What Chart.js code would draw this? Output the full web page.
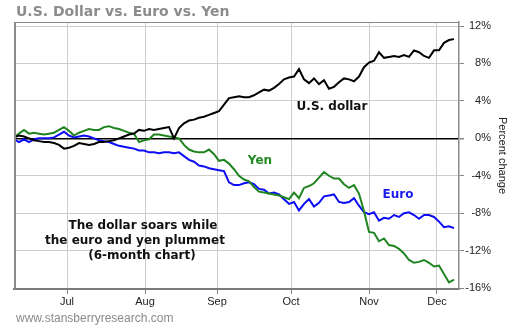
<!DOCTYPE html>
<html><head><meta charset="utf-8">
<script src="https://cdn.jsdelivr.net/npm/chart.js@4.4.1/dist/chart.umd.min.js"></script>
<style>html,body{margin:0;padding:0;background:#fff;overflow:hidden}#wrap{width:510px;height:325px;position:relative}</style>
</head><body><div id="wrap"><canvas id="c" width="510" height="325"></canvas></div>
<script>
// x values are trading-day indices; month tick labels placed at their index
const monthLabels = ['Jul','Aug','Sep','Oct','Nov','Dec'];
const monthTickIndex = [10.6, 26.2, 40.6, 55.4, 71.0, 84.6];
const yTickValues = [12, 8, 4, 0, -4, -8, -12, -16];

const usDollar = [0.1,0.3,0.2,0.0,-0.2,-0.3,-0.4,-0.4,-0.5,-0.7,
 -1.1,-1.0,-0.8,-0.5,-0.6,-0.7,-0.6,-0.4,-0.4,-0.3,
 -0.2,0.0,0.2,0.4,0.5,0.9,0.8,1.0,0.9,1.0,
 1.1,1.2,0.0,1.1,1.6,1.9,2.0,2.2,2.3,2.5,
 2.7,2.9,3.6,4.3,4.4,4.5,4.4,4.4,4.6,4.9,
 5.2,5.1,5.4,5.8,6.3,6.5,6.6,7.4,6.3,5.9,
 6.4,5.8,6.2,5.3,5.5,6.0,6.4,6.3,6.1,6.6,
 7.6,8.1,8.3,9.2,8.6,8.7,8.8,8.7,8.9,8.7,
 9.4,9.2,8.8,8.6,9.4,9.4,10.2,10.5,10.6];

const euro = [-0.1,-0.4,-0.1,-0.4,-0.1,0.0,0.0,0.0,0.1,0.4,
 0.7,0.3,0.1,0.2,0.3,0.2,0.0,-0.2,-0.3,-0.4,
 -0.6,-0.8,-0.9,-1.0,-1.1,-1.3,-1.3,-1.5,-1.5,-1.6,
 -1.5,-1.5,-1.6,-1.5,-1.9,-2.3,-2.5,-2.9,-3.0,-3.2,
 -3.3,-3.4,-3.5,-4.7,-5.0,-5.0,-4.8,-4.7,-4.9,-5.4,
 -5.5,-5.9,-5.8,-6.0,-6.5,-7.0,-6.8,-7.7,-7.0,-6.5,
 -7.3,-6.9,-6.2,-6.1,-6.0,-6.8,-6.9,-6.8,-6.4,-7.2,
 -7.9,-8.1,-7.9,-8.8,-8.5,-8.6,-8.2,-8.4,-8.0,-7.9,
 -8.2,-8.6,-8.2,-8.2,-8.4,-8.9,-9.5,-9.4,-9.6];

const yen = [0.1,0.5,0.9,0.5,0.6,0.5,0.4,0.5,0.6,0.9,
 1.2,0.8,0.3,0.6,0.8,1.0,0.9,0.9,1.2,1.3,
 1.1,1.0,0.8,0.6,0.5,-0.4,-0.2,-0.1,0.4,0.4,
 0.3,0.2,0.1,0.0,-0.7,-1.2,-1.4,-1.5,-1.5,-1.2,
 -1.7,-2.4,-2.3,-2.7,-3.3,-4.0,-4.4,-4.6,-5.2,-5.7,
 -5.8,-5.9,-6.0,-6.1,-6.3,-6.5,-5.8,-6.4,-5.3,-5.1,
 -4.8,-4.2,-3.6,-4.0,-4.3,-4.3,-4.9,-5.3,-5.0,-5.9,
 -7.8,-10.0,-10.1,-11.0,-10.7,-11.4,-11.5,-11.8,-12.3,-13.0,
 -13.3,-13.2,-13.0,-13.3,-13.7,-13.6,-14.5,-15.4,-15.1];

const toPts = arr => arr.map((v, i) => ({x: i, y: v}));

const decor = {
  id: 'decor',
  afterDatasetsDraw(chart) {
    const ctx = chart.ctx, a = chart.chartArea;
    ctx.save();
    // top and left frame
    ctx.strokeStyle = '#8a8a8a';
    ctx.lineWidth = 1;
    ctx.beginPath(); ctx.moveTo(a.left, a.top + 0.5); ctx.lineTo(a.right, a.top + 0.5); ctx.stroke();
    ctx.lineWidth = 2;
    ctx.beginPath(); ctx.moveTo(a.left + 1, a.top); ctx.lineTo(a.left + 1, a.bottom); ctx.stroke();
    // annotations
    ctx.textAlign = 'center'; ctx.textBaseline = 'middle';
    ctx.font = 'bold 12px "DejaVu Sans"';
    ctx.fillStyle = '#111';
    ctx.fillText('U.S. dollar', 332, 107);
    ctx.fillText('The dollar soars while', 143, 226);
    ctx.fillText('the euro and yen plummet', 135, 241);
    ctx.fillText('(6-month chart)', 142, 256);
    ctx.fillStyle = '#238a23';
    ctx.fillText('Yen', 260, 161);
    ctx.fillStyle = '#1a1aee';
    ctx.fillText('Euro', 398, 195);
    ctx.restore();
  },
  afterDraw(chart) {
    const ctx = chart.ctx;
    ctx.save();
    ctx.textAlign = 'left'; ctx.textBaseline = 'alphabetic';
    ctx.fillStyle = '#8c8c8c';
    ctx.font = 'bold 14px "DejaVu Sans"';
    ctx.fillText('U.S. Dollar vs. Euro vs. Yen', 16, 16);
    ctx.fillStyle = '#8a8a8a';
    ctx.font = '12px "Liberation Sans"';
    ctx.fillText('www.stansberryresearch.com', 16, 322);
    ctx.restore();
  }
};

const yMin = -16.1, yMax = 12.43;

new Chart(document.getElementById('c'), {
  type: 'line',
  data: {
    datasets: [
      {label: 'U.S. dollar', data: toPts(usDollar), borderColor: '#000', borderWidth: 2, pointRadius: 0},
      {label: 'Yen', data: toPts(yen), borderColor: '#1f841f', borderWidth: 2, pointRadius: 0},
      {label: 'Euro', data: toPts(euro), borderColor: '#0c0cf5', borderWidth: 2, pointRadius: 0}
    ]
  },
  options: {
    responsive: false,
    devicePixelRatio: 1,
    animation: false,
    layout: {padding: {left: 14, top: 22, right: 0, bottom: 16}},
    plugins: {legend: {display: false}, tooltip: {enabled: false}, title: {display: false}},
    scales: {
      x: {
        type: 'linear', min: 0, max: 89,
        afterBuildTicks: s => { s.ticks = monthTickIndex.map(v => ({value: v})); },
        afterFit: s => { s.height = 20; },
        ticks: {
          autoSkip: false, maxRotation: 0, padding: 1,
          color: '#222', font: {family: '"Liberation Sans"', size: 11},
          callback: (v, i) => monthLabels[i]
        },
        grid: {color: '#cccccc', lineWidth: 1, tickLength: 5, tickColor: '#888'},
        border: {display: true, color: '#7a7a7a', width: 2}
      },
      y: {
        position: 'right', min: yMin, max: yMax,
        afterBuildTicks: s => { s.ticks = yTickValues.map(v => ({value: v})); },
        afterFit: s => { s.width = 32; },
        ticks: {
          crossAlign: 'far',
          color: '#222', font: {family: '"Liberation Sans"', size: 11},
          callback: v => v + '%'
        },
        grid: {
          color: c => (c.tick && c.tick.value === 0) ? '#000' : '#cccccc',
          lineWidth: c => (c.tick && c.tick.value === 0) ? 1.5 : 1,
          tickLength: 5, tickColor: '#888'
        },
        border: {display: true, color: '#8a8a8a', width: 1.5}
      },
      yTitle: {
        position: 'right', min: yMin, max: yMax,
        afterFit: s => { s.width = 19; },
        ticks: {display: false},
        grid: {display: false, drawTicks: false},
        border: {display: false},
        title: {display: true, text: 'Percent change', color: '#222',
          font: {family: '"Liberation Sans"', size: 11}, padding: {top: 1, bottom: 0}}
      }
    }
  },
  plugins: [decor]
});
</script>
</body></html>
